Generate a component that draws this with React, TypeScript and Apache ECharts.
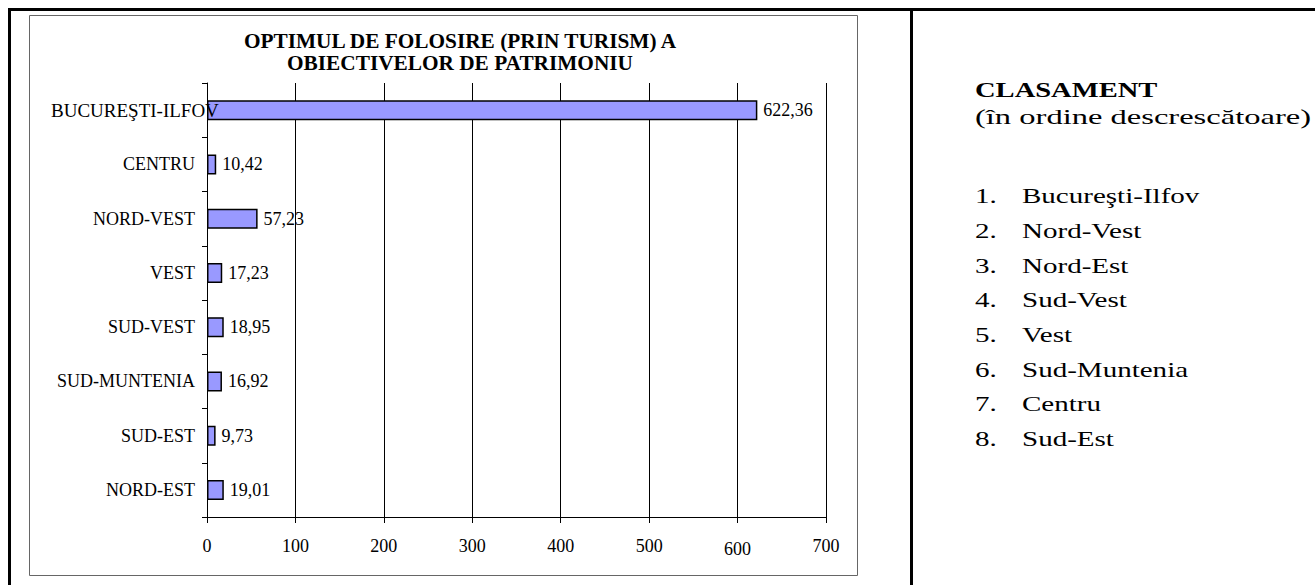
import React, { useEffect, useRef } from "react";
import * as echarts from "echarts";

const categories = [
  "BUCUREŞTI-ILFOV",
  "CENTRU",
  "NORD-VEST",
  "VEST",
  "SUD-VEST",
  "SUD-MUNTENIA",
  "SUD-EST",
  "NORD-EST",
];
const values = [622.36, 10.42, 57.23, 17.23, 18.95, 16.92, 9.73, 19.01];
const xMin = 0;
const xMax = 700;
const xInterval = 100;
const titleLines = ["OPTIMUL DE FOLOSIRE (PRIN TURISM) A", "OBIECTIVELOR DE PATRIMONIU"];
const rankingTitle = "CLASAMENT";
const rankingSubtitle = "(în ordine descrescătoare)";
const ranking = [
  "Bucureşti-Ilfov",
  "Nord-Vest",
  "Nord-Est",
  "Sud-Vest",
  "Vest",
  "Sud-Muntenia",
  "Centru",
  "Sud-Est",
];

const FONT = "'Liberation Serif', 'Times New Roman', serif";

export default function App() {
  const ref = useRef<HTMLDivElement>(null);
  useEffect(() => {
    if (!ref.current) return;
    const chart = echarts.init(ref.current, null, { renderer: "svg" });
    const listGraphics: any[] = [];
    ranking.forEach((name, i) => {
      const y = 196 + i * 34.7;
      listGraphics.push({
        type: "text",
        x: 975,
        y,
        scaleX: 1.32,
        style: {
          text: `${i + 1}.`,
          fontSize: 22,
          fontFamily: FONT,
          fill: "#000",
          verticalAlign: "middle",
          textVerticalAlign: "middle",
        },
      });
      listGraphics.push({
        type: "text",
        x: 1022,
        y,
        scaleX: 1.32,
        style: {
          text: name,
          fontSize: 22,
          fontFamily: FONT,
          fill: "#000",
          verticalAlign: "middle",
          textVerticalAlign: "middle",
        },
      });
    });
    chart.setOption({
      animation: false,
      backgroundColor: "#fff",
      title: {
        text: titleLines.join("\n"),
        left: 460,
        top: 29.5,
        padding: 0,
        textAlign: "center",
        textStyle: {
          fontSize: 21.3,
          fontWeight: "bold",
          fontFamily: FONT,
          color: "#000",
          lineHeight: 22,
        },
      },
      grid: { left: 207, right: 1315 - 826, top: 83, bottom: 585 - 517, containLabel: false },
      xAxis: {
        type: "value",
        min: xMin,
        max: xMax,
        interval: xInterval,
        axisLine: { show: true, lineStyle: { color: "#000", width: 1 } },
        axisTick: { show: true, length: 6, lineStyle: { color: "#000" } },
        splitLine: { show: true, lineStyle: { color: "#000", width: 1 } },
        axisLabel: {
          fontSize: 18,
          fontFamily: FONT,
          color: "#000",
          margin: 20,
          formatter: (v: number) => (v === 600 ? `{low|${v}}` : String(v)),
          rich: {
            low: { fontSize: 18, fontFamily: FONT, color: "#000", padding: [3, 0, 0, 0] },
          },
        },
      },
      yAxis: {
        type: "category",
        inverse: true,
        data: categories,
        z: 3,
        axisLine: { show: true, lineStyle: { color: "#000", width: 1 } },
        axisTick: { show: true, length: 5, lineStyle: { color: "#000" } },
        splitLine: { show: false },
        axisLabel: {
          fontSize: 18,
          fontFamily: FONT,
          color: "#000",
          margin: 12,
          formatter: (v: string) => (v === "BUCUREŞTI-ILFOV" ? `{w|${v}}` : v),
          rich: {
            w: { width: 144, align: "left", fontSize: 19, fontFamily: FONT, color: "#000" },
          },
        },
      },
      series: [
        {
          type: "bar",
          data: values,
          barWidth: 20,
          itemStyle: { color: "#9999FF", borderColor: "#000", borderWidth: 1.5 },
          label: {
            show: true,
            position: "right",
            distance: 6,
            fontSize: 18,
            fontFamily: FONT,
            color: "#000",
            formatter: (p: any) => String(p.value).replace(".", ","),
          },
        },
      ],
      graphic: [
        {
          type: "rect",
          shape: { x: 29.5, y: 15.5, width: 828, height: 560 },
          style: { fill: "none", stroke: "#666", lineWidth: 1 },
          silent: true,
        },
        {
          type: "line",
          shape: { x1: 8, y1: 9.5, x2: 1315, y2: 9.5 },
          style: { stroke: "#000", lineWidth: 3 },
        },
        {
          type: "line",
          shape: { x1: 9.5, y1: 8, x2: 9.5, y2: 585 },
          style: { stroke: "#000", lineWidth: 3 },
        },
        {
          type: "line",
          shape: { x1: 911.5, y1: 8, x2: 911.5, y2: 585 },
          style: { stroke: "#000", lineWidth: 3 },
        },
        {
          type: "text",
          x: 975,
          y: 90,
          scaleX: 1.36,
          style: {
            text: rankingTitle,
            fontSize: 21,
            fontWeight: "bold",
            fontFamily: FONT,
            fill: "#000",
            verticalAlign: "middle",
            textVerticalAlign: "middle",
          },
        },
        {
          type: "text",
          x: 975,
          y: 116,
          scaleX: 1.48,
          style: {
            text: rankingSubtitle,
            fontSize: 22,
            fontFamily: FONT,
            fill: "#000",
            verticalAlign: "middle",
            textVerticalAlign: "middle",
          },
        },
        ...listGraphics,
      ],
    });
    return () => chart.dispose();
  }, []);
  return (
    <div
      ref={ref}
      style={{ position: "fixed", left: 0, top: 0, width: 1315, height: 585 }}
    />
  );
}
